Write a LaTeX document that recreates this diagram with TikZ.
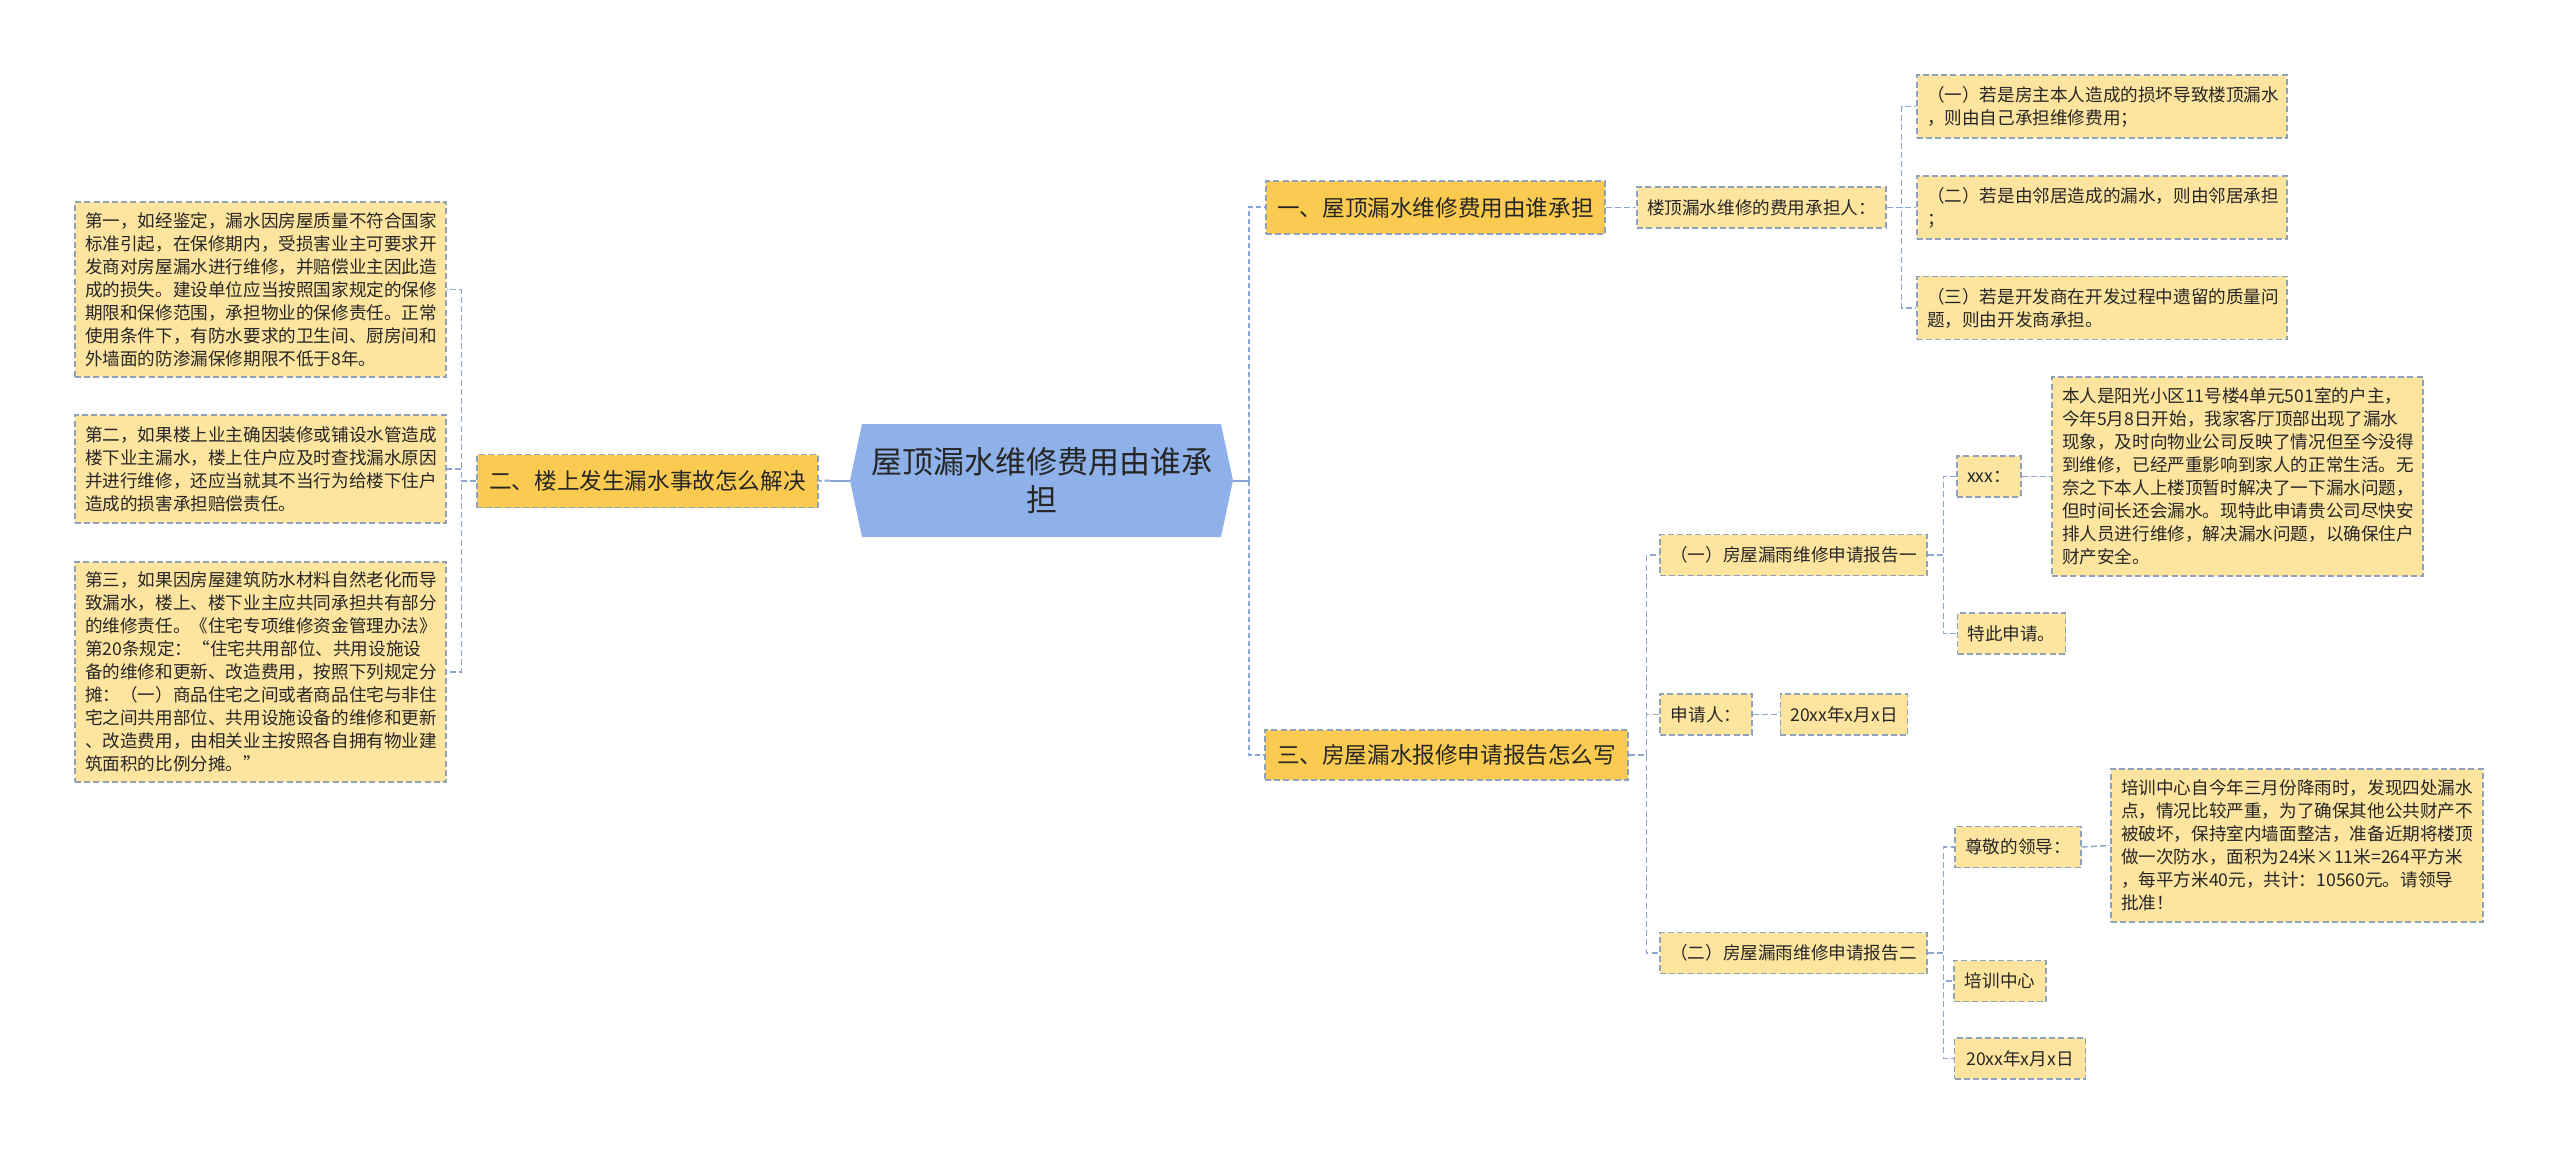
\documentclass[tikz,border=0pt]{standalone}
\usepackage{fontspec}
\setmainfont{Noto Sans CJK SC}
\usepackage{tikz}
\usetikzlibrary{shapes.symbols}
\usepackage{xcolor}
\definecolor{rootblue}{HTML}{8EB1EA}
\definecolor{branchgold}{HTML}{FACB50}
\definecolor{leafyellow}{HTML}{FDE49F}
\definecolor{boxedge}{HTML}{8FA2BC}
\definecolor{linkblue}{HTML}{86A5D8}
\definecolor{linkgray}{HTML}{8CA6CF}
\definecolor{inkgray}{HTML}{262626}

\begin{document}
\begin{tikzpicture}[x=0.5pt,y=-0.5pt,
  box/.style={draw=boxedge,line width=0.7pt,dash pattern=on 3pt off 1.6pt,
    text=inkgray,inner xsep=5pt,inner ysep=0pt,align=left},
  branch/.style={box,fill=branchgold,font=\fontsize{11.3}{14}\selectfont,minimum height=26.5pt},
  leaf/.style={box,fill=leafyellow,font=\fontsize{8.8}{11.5}\selectfont,minimum height=20.5pt},
  rootlink/.style={draw=linkblue,line width=1pt},
  trunk/.style={draw=linkblue,line width=1pt,dash pattern=on 2.5pt off 1.5pt},
  link/.style={draw=linkgray,line width=0.75pt,dash pattern=on 3pt off 1.6pt}]
\useasboundingbox (0,0) rectangle (2560,1155);

% centre
\node[signal,signal to=east and west,signal pointer angle=156,fill=rootblue,
  text=inkgray,align=center,inner sep=0pt,text width=172pt,
  minimum width=191.5pt,minimum height=56.5pt,
  font=\fontsize{15.5}{19}\selectfont] (root) at (1041.5,480.5) {屋顶漏水维修费用由谁承\\担};

% first level
\node[branch,minimum width=169.5pt] (b1) at (1435.5,207.5) {一、屋顶漏水维修费用由谁承担};
\node[branch,minimum width=170.5pt] (b2) at (647.5,481) {二、楼上发生漏水事故怎么解决};
\node[branch,minimum width=181.5pt,minimum height=25pt] (b3) at (1446.5,755) {三、房屋漏水报修申请报告怎么写};

% left side
\node[leaf,text width=175.5pt,minimum height=87.5pt] (l1) at (260.5,289.5)
  {第一，如经鉴定，漏水因房屋质量不符合国家\\标准引起，在保修期内，受损害业主可要求开\\发商对房屋漏水进行维修，并赔偿业主因此造\\成的损失。建设单位应当按照国家规定的保修\\期限和保修范围，承担物业的保修责任。正常\\使用条件下，有防水要求的卫生间、厨房间和\\外墙面的防渗漏保修期限不低于8年。};
\node[leaf,text width=175.5pt,minimum height=54pt] (l2) at (260.5,469)
  {第二，如果楼上业主确因装修或铺设水管造成\\楼下业主漏水，楼上住户应及时查找漏水原因\\并进行维修，还应当就其不当行为给楼下住户\\造成的损害承担赔偿责任。};
\node[leaf,text width=175.5pt,minimum height=110pt] (l3) at (260.5,672)
  {第三，如果因房屋建筑防水材料自然老化而导\\致漏水，楼上、楼下业主应共同承担共有部分\\的维修责任。《住宅专项维修资金管理办法》\\第20条规定：“住宅共用部位、共用设施设\\备的维修和更新、改造费用，按照下列规定分\\摊：（一）商品住宅之间或者商品住宅与非住\\宅之间共用部位、共用设施设备的维修和更新\\、改造费用，由相关业主按照各自拥有物业建\\筑面积的比例分摊。”};

% branch one
\node[leaf,minimum width=122.5pt] (mid) at (1761.5,207.5) {楼顶漏水维修的费用承担人：};
\node[leaf,text width=175pt,minimum height=31.5pt] (r1a) at (2102,106.5)
  {（一）若是房主本人造成的损坏导致楼顶漏水\\，则由自己承担维修费用；};
\node[leaf,text width=175pt,minimum height=31.5pt] (r1b) at (2102,207.5)
  {（二）若是由邻居造成的漏水，则由邻居承担\\；};
\node[leaf,text width=175pt,minimum height=31.5pt] (r1c) at (2102,308)
  {（三）若是开发商在开发过程中遗留的质量问\\题，则由开发商承担。};

% branch three
\node[leaf,minimum width=133.5pt] (b3a) at (1793.5,555) {（一）房屋漏雨维修申请报告一};
\node[leaf,minimum width=46pt] (b3b) at (1706,714.5) {申请人：};
\node[leaf,minimum width=63pt] (date1) at (1844,714.5) {20xx年x月x日};
\node[leaf,minimum width=133.5pt] (b3c) at (1793.5,953) {（二）房屋漏雨维修申请报告二};
\node[leaf,minimum width=31pt] (xxx) at (1989,476.5) {xxx：};
\node[leaf,minimum width=53pt] (tcsq) at (2011.5,633.5) {特此申请。};
\node[leaf,text width=175.5pt,minimum height=99.5pt] (long1) at (2237.5,476.5)
  {本人是阳光小区11号楼4单元501室的户主，\\今年5月8日开始，我家客厅顶部出现了漏水\\现象，及时向物业公司反映了情况但至今没得\\到维修，已经严重影响到家人的正常生活。无\\奈之下本人上楼顶暂时解决了一下漏水问题，\\但时间长还会漏水。现特此申请贵公司尽快安\\排人员进行维修，解决漏水问题，以确保住户\\财产安全。};
\node[leaf,minimum width=63pt] (zjld) at (2018,847) {尊敬的领导：};
\node[leaf,minimum width=46pt] (pxzx) at (2000,981) {培训中心};
\node[leaf,minimum width=65.5pt] (date2) at (2020,1058.5) {20xx年x月x日};
\node[leaf,text width=176pt,minimum height=76.5pt] (long2) at (2297,845.5)
  {培训中心自今年三月份降雨时，发现四处漏水\\点，情况比较严重，为了确保其他公共财产不\\被破坏，保持室内墙面整洁，准备近期将楼顶\\做一次防水，面积为24米×11米=264平方米\\，每平方米40元，共计：10560元。请领导\\批准！};

% connectors
\draw[rootlink] (root.east) -- ++(16,0) coordinate (rt);
\draw[trunk] (rt) |- (b1.west);
\draw[trunk] (rt) |- (b3.west);
\draw[rootlink] (root.west) -- ++(-20,0) coordinate (lt);
\draw[trunk] (lt) -- (b2.east);
\foreach \n in {l1,l2,l3} \draw[link] (b2.west) -- ++(-15,0) |- (\n.east);
\draw[link] (b1.east) -- (mid.west);
\foreach \n in {r1a,r1b,r1c} \draw[link] (mid.east) -- ++(15,0) |- (\n.west);
\foreach \n in {b3a,b3b,b3c} \draw[link] (b3.east) -- ++(18,0) |- (\n.west);
\draw[link] (b3b.east) -- (date1.west);
\foreach \n in {xxx,tcsq} \draw[link] (b3a.east) -- ++(16,0) |- (\n.west);
\draw[link] (xxx.east) -- (long1.west);
\foreach \n in {zjld,pxzx,date2} \draw[link] (b3c.east) -- ++(16,0) |- (\n.west);
\draw[link] (zjld.east) -- (long2.west);
\end{tikzpicture}
\end{document}
